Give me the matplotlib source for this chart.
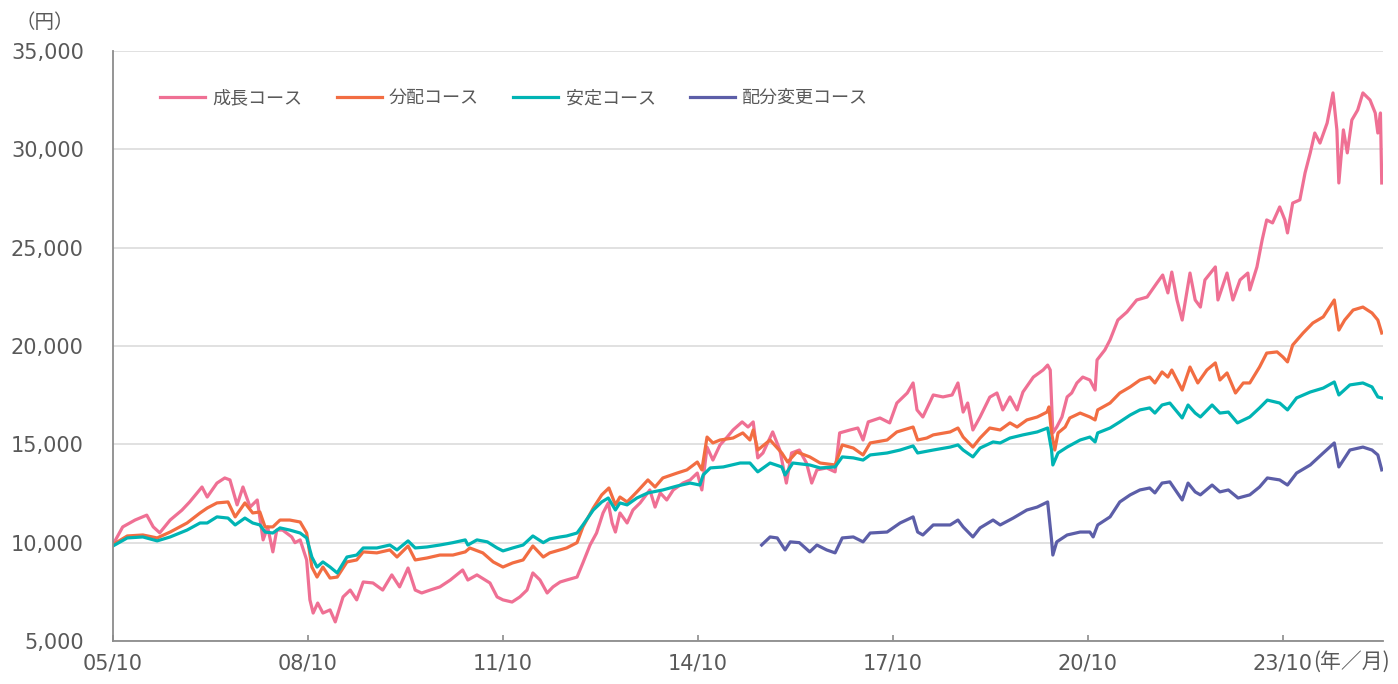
# -*- coding: utf-8 -*-
"""
基準価額の推移（成長・分配・安定・配分変更コース）
"""

import matplotlib
matplotlib.use('Agg')
import matplotlib.pyplot as plt
from matplotlib.ticker import StrMethodFormatter

plt.rcParams['font.family'] = ['DejaVu Sans', 'Noto Sans CJK JP']

# データ（年は小数で表記：2005.75 = 2005年10月）
growth_t = [2005.75, 2005.90, 2006.09, 2006.27, 2006.37, 2006.47, 2006.63, 2006.81, 2006.93,
            2007.12, 2007.20, 2007.35, 2007.47, 2007.55, 2007.66, 2007.75, 2007.86, 2007.97,
            2008.06, 2008.13, 2008.21, 2008.27, 2008.36, 2008.50, 2008.55, 2008.63, 2008.73,
            2008.78, 2008.83, 2008.90, 2008.98, 2009.09, 2009.17, 2009.29, 2009.40, 2009.50,
            2009.60, 2009.75, 2009.90, 2010.04, 2010.16, 2010.29, 2010.40, 2010.50, 2010.63,
            2010.78, 2010.94, 2011.13, 2011.21, 2011.35, 2011.55, 2011.66, 2011.75, 2011.89,
            2012.01, 2012.12, 2012.21, 2012.32, 2012.43, 2012.52, 2012.63, 2012.73, 2012.89,
            2012.98, 2013.09, 2013.19, 2013.29, 2013.37, 2013.43, 2013.48, 2013.55, 2013.66,
            2013.75, 2013.86, 2014.01, 2014.09, 2014.17, 2014.27, 2014.37, 2014.52, 2014.63,
            2014.74, 2014.81, 2014.89, 2014.98, 2015.09, 2015.20, 2015.29, 2015.43, 2015.52,
            2015.60, 2015.67, 2015.75, 2015.90, 2016.01, 2016.11, 2016.19, 2016.31, 2016.42,
            2016.50, 2016.58, 2016.73, 2016.86, 2016.93, 2017.09, 2017.21, 2017.29, 2017.37,
            2017.55, 2017.70, 2017.81, 2017.97, 2018.06, 2018.12, 2018.21, 2018.37, 2018.52,
            2018.66, 2018.75, 2018.83, 2018.90, 2018.98, 2019.09, 2019.24, 2019.35, 2019.44,
            2019.55, 2019.66, 2019.75, 2019.91, 2020.06, 2020.13, 2020.17, 2020.21, 2020.27,
            2020.35, 2020.43, 2020.50, 2020.58, 2020.67, 2020.78, 2020.86, 2020.89, 2021.01,
            2021.09, 2021.21, 2021.35, 2021.50, 2021.66, 2021.81, 2021.90, 2021.98, 2022.04,
            2022.12, 2022.20, 2022.32, 2022.40, 2022.48, 2022.55, 2022.71, 2022.75, 2022.89,
            2022.98, 2023.09, 2023.21, 2023.24, 2023.35, 2023.43, 2023.50, 2023.59, 2023.70,
            2023.78, 2023.82, 2023.90, 2024.01, 2024.09, 2024.17, 2024.24, 2024.32, 2024.43,
            2024.52, 2024.58, 2024.61, 2024.68, 2024.74, 2024.81, 2024.90, 2024.98, 2025.09,
            2025.17, 2025.21, 2025.25, 2025.27]
growth_v = [9900, 10800, 11150, 11400, 10800, 10500, 11150, 11650, 12070,
            12830, 12320, 13030, 13290, 13190, 11920, 12830, 11810, 12170,
            10140, 10800, 9530, 10640, 10640, 10290, 10000, 10140, 9120,
            7090, 6420, 6930, 6420, 6580, 5970, 7240, 7590, 7090,
            8000, 7950, 7590, 8360, 7750, 8710, 7590, 7440, 7590,
            7750, 8100, 8610, 8100, 8360, 7950, 7240, 7090, 6980,
            7240, 7590, 8460, 8100, 7440, 7750, 8000, 8100, 8250,
            8970, 9880, 10490, 11510, 12020, 11000, 10540, 11510, 11000,
            11660, 12020, 12680, 11810, 12530, 12170, 12680, 13030, 13190,
            13540, 12680, 14860, 14200, 14970, 15370, 15730, 16140, 15880,
            16140, 14310, 14560, 15630, 14710, 13030, 14560, 14710, 14050,
            13030, 13700, 13800, 13600, 15580, 15730, 15830, 15220, 16140,
            16340, 16090, 17100, 17610, 18120, 16750, 16390, 17510, 17410,
            17510, 18120, 16640, 17100, 15730, 16390, 17400, 17610, 16750,
            17410, 16750, 17660, 18420, 18780, 19030, 18780, 15580, 15880,
            16390, 17410, 17610, 18120, 18420, 18270, 17760, 19290, 19800,
            20310, 21320, 21730, 22340, 22490, 23200, 23610, 22700, 23760,
            22340, 21320, 23710, 22340, 21980, 23360, 24020, 22340, 23710,
            22340, 23360, 23710, 22850, 24020, 25390, 26410, 26260, 27070,
            26410, 25750, 27270, 27430, 28800, 29820, 30830, 30320, 31340,
            32870, 30990, 28290, 30990, 29820, 31490, 32000, 32870, 32510,
            31850, 30830, 31850, 28290]

dist_t = [2005.75, 2005.97, 2006.21, 2006.43, 2006.63, 2006.89, 2007.09, 2007.20, 2007.35,
          2007.52, 2007.63, 2007.78, 2007.90, 2008.01, 2008.09, 2008.21, 2008.32, 2008.47,
          2008.63, 2008.73, 2008.81, 2008.89, 2008.98, 2009.09, 2009.20, 2009.35, 2009.50,
          2009.60, 2009.81, 2010.01, 2010.12, 2010.29, 2010.40, 2010.58, 2010.78, 2010.98,
          2011.17, 2011.24, 2011.44, 2011.60, 2011.75, 2011.90, 2012.06, 2012.21, 2012.37,
          2012.47, 2012.73, 2012.89, 2012.98, 2013.14, 2013.27, 2013.38, 2013.48, 2013.55,
          2013.66, 2013.81, 2013.98, 2014.09, 2014.21, 2014.43, 2014.58, 2014.74, 2014.81,
          2014.89, 2014.98, 2015.09, 2015.29, 2015.44, 2015.55, 2015.60, 2015.67, 2015.86,
          2016.04, 2016.13, 2016.27, 2016.47, 2016.63, 2016.86, 2016.97, 2017.14, 2017.29,
          2017.40, 2017.66, 2017.81, 2018.06, 2018.13, 2018.27, 2018.37, 2018.63, 2018.75,
          2018.83, 2018.98, 2019.09, 2019.24, 2019.40, 2019.55, 2019.66, 2019.81, 2019.97,
          2020.12, 2020.15, 2020.19, 2020.24, 2020.29, 2020.40, 2020.47, 2020.63, 2020.78,
          2020.86, 2020.90, 2021.09, 2021.24, 2021.40, 2021.55, 2021.70, 2021.78, 2021.89,
          2021.98, 2022.04, 2022.20, 2022.32, 2022.44, 2022.58, 2022.71, 2022.78, 2022.89,
          2023.02, 2023.14, 2023.24, 2023.39, 2023.50, 2023.66, 2023.75, 2023.82, 2023.90,
          2024.06, 2024.21, 2024.37, 2024.54, 2024.61, 2024.70, 2024.83, 2024.98, 2025.12,
          2025.21, 2025.27]
dist_v = [9900, 10340, 10390, 10240, 10540, 11000, 11510, 11760, 12020,
          12070, 11310, 12020, 11510, 11560, 10800, 10800, 11150, 11150,
          11050, 10490, 8760, 8250, 8760, 8200, 8250, 9020, 9120,
          9530, 9480, 9630, 9270, 9830, 9120, 9220, 9370, 9370,
          9530, 9730, 9480, 9020, 8760, 8970, 9120, 9830, 9270,
          9480, 9730, 10000, 10800, 11760, 12430, 12780, 11920, 12320,
          12070, 12580, 13190, 12830, 13290, 13540, 13700, 14100, 13700,
          15370, 15070, 15220, 15320, 15580, 15220, 15730, 14710, 15220,
          14560, 14100, 14610, 14360, 14050, 13950, 14970, 14810, 14460,
          15070, 15220, 15630, 15880, 15220, 15320, 15480, 15630, 15830,
          15370, 14860, 15320, 15830, 15730, 16090, 15880, 16240, 16390,
          16640, 16900, 15580, 14710, 15580, 15880, 16340, 16590, 16390,
          16240, 16750, 17100, 17610, 17920, 18270, 18420, 18120, 18680,
          18420, 18780, 17760, 18930, 18120, 18780, 19140, 18270, 18630,
          17610, 18120, 18120, 18930, 19640, 19700, 19440, 19190, 20050,
          20660, 21170, 21480, 22340, 20810, 21320, 21830, 21980, 21680,
          21320, 20660]

stable_t = [2005.75, 2005.97, 2006.21, 2006.43, 2006.63, 2006.89, 2007.09, 2007.20, 2007.35,
            2007.52, 2007.63, 2007.78, 2007.90, 2008.01, 2008.09, 2008.21, 2008.32, 2008.47,
            2008.63, 2008.73, 2008.81, 2008.89, 2008.98, 2009.09, 2009.20, 2009.35, 2009.50,
            2009.60, 2009.81, 2010.01, 2010.12, 2010.29, 2010.40, 2010.58, 2010.78, 2010.98,
            2011.17, 2011.21, 2011.35, 2011.51, 2011.66, 2011.75, 2011.90, 2012.06, 2012.21,
            2012.37, 2012.47, 2012.63, 2012.73, 2012.89, 2012.98, 2013.14, 2013.27, 2013.37,
            2013.48, 2013.55, 2013.66, 2013.81, 2013.98, 2014.21, 2014.43, 2014.63, 2014.78,
            2014.83, 2014.94, 2015.14, 2015.40, 2015.55, 2015.67, 2015.86, 2016.04, 2016.09,
            2016.21, 2016.47, 2016.63, 2016.86, 2016.97, 2017.14, 2017.29, 2017.40, 2017.66,
            2017.86, 2018.06, 2018.13, 2018.37, 2018.63, 2018.75, 2018.83, 2018.98, 2019.09,
            2019.29, 2019.40, 2019.55, 2019.75, 2019.97, 2020.13, 2020.19, 2020.21, 2020.29,
            2020.43, 2020.63, 2020.78, 2020.86, 2020.90, 2021.09, 2021.24, 2021.40, 2021.55,
            2021.70, 2021.78, 2021.89, 2022.01, 2022.20, 2022.29, 2022.40, 2022.48, 2022.66,
            2022.78, 2022.91, 2023.05, 2023.24, 2023.39, 2023.51, 2023.70, 2023.82, 2023.96,
            2024.17, 2024.37, 2024.54, 2024.61, 2024.78, 2024.98, 2025.12, 2025.21, 2025.27]
stable_v = [9830, 10240, 10290, 10090, 10290, 10640, 11000, 11000, 11310,
            11250, 10900, 11250, 11000, 10900, 10540, 10490, 10750, 10640,
            10490, 10240, 9270, 8760, 9020, 8760, 8460, 9270, 9370,
            9730, 9730, 9880, 9630, 10090, 9730, 9780, 9880, 10000,
            10140, 9880, 10140, 10040, 9730, 9580, 9730, 9880, 10340,
            10000, 10190, 10290, 10340, 10490, 10900, 11660, 12070, 12270,
            11660, 12020, 11920, 12270, 12530, 12680, 12880, 13030, 12930,
            13440, 13800, 13850, 14050, 14050, 13600, 14050, 13850, 13440,
            14050, 13950, 13800, 13850, 14360, 14310, 14200, 14460, 14560,
            14710, 14920, 14560, 14710, 14860, 14970, 14710, 14360, 14810,
            15120, 15070, 15320, 15480, 15630, 15830, 14710, 13950, 14560,
            14860, 15220, 15370, 15120, 15580, 15830, 16140, 16490, 16750,
            16850, 16590, 17000, 17100, 16340, 17000, 16590, 16390, 17000,
            16590, 16640, 16090, 16390, 16850, 17250, 17100, 16750, 17360,
            17660, 17860, 18170, 17510, 18020, 18120, 17920, 17410, 17360]

realloc_t = [2015.73, 2015.86, 2015.97, 2016.09, 2016.17, 2016.31, 2016.47, 2016.58, 2016.73,
             2016.86, 2016.97, 2017.14, 2017.29, 2017.40, 2017.66, 2017.86, 2018.06, 2018.13,
             2018.21, 2018.37, 2018.63, 2018.75, 2018.83, 2018.98, 2019.09, 2019.29, 2019.40,
             2019.60, 2019.81, 2019.97, 2020.13, 2020.19, 2020.21, 2020.27, 2020.43, 2020.63,
             2020.78, 2020.83, 2020.90, 2021.09, 2021.24, 2021.40, 2021.55, 2021.70, 2021.78,
             2021.89, 2022.01, 2022.20, 2022.29, 2022.40, 2022.48, 2022.66, 2022.78, 2022.91,
             2023.06, 2023.24, 2023.39, 2023.51, 2023.70, 2023.82, 2023.96, 2024.17, 2024.37,
             2024.54, 2024.61, 2024.78, 2024.98, 2025.12, 2025.21, 2025.27]
realloc_v = [9880, 10290, 10240, 9630, 10040, 10000, 9530, 9880, 9630,
             9480, 10240, 10290, 10040, 10490, 10540, 11000, 11310, 10540,
             10390, 10900, 10900, 11150, 10800, 10290, 10750, 11150, 10900,
             11250, 11660, 11810, 12070, 10140, 9370, 10040, 10390, 10540,
             10540, 10290, 10900, 11310, 12070, 12430, 12680, 12780, 12530,
             13030, 13090, 12170, 13030, 12580, 12430, 12930, 12580, 12680,
             12270, 12430, 12830, 13290, 13190, 12930, 13540, 13950, 14560,
             15070, 13850, 14710, 14860, 14710, 14460, 13700]

labels = ['成長コース', '分配コース', '安定コース', '配分変更コース']
colors = ['#EF7094', '#F26D42', '#00B4B4', '#5C5EA8']

xtick_pos = [2005.75, 2008.75, 2011.75, 2014.75, 2017.75, 2020.75, 2023.75]
xtick_lab = ['05/10', '08/10', '11/10', '14/10', '17/10', '20/10', '23/10']
yticks = [5000, 10000, 15000, 20000, 25000, 30000, 35000]

text_col = '#595959'
cjk = ['Noto Sans CJK JP', 'DejaVu Sans']

fig, ax = plt.subplots(figsize=(13.98, 6.84), dpi=100)
fig.subplots_adjust(left=0.0808, right=0.9893, bottom=0.0629, top=0.9254)

series = [(growth_t, growth_v), (dist_t, dist_v), (stable_t, stable_v), (realloc_t, realloc_v)]
for (t, v), lab, c in zip(series, labels, colors):
    ax.plot(t, v, color=c, lw=2.3, label=lab, solid_joinstyle='round')

ax.set_xlim(2005.75, 2025.29)
ax.set_ylim(5000, 35000)
ax.set_yticks(yticks)
ax.yaxis.set_major_formatter(StrMethodFormatter('{x:,.0f}'))
ax.set_xticks(xtick_pos)
ax.set_xticklabels(xtick_lab)

ax.grid(axis='y', color='#D9D9D9', lw=1.1)
ax.set_axisbelow(True)
for s in ['top', 'right']:
    ax.spines[s].set_visible(False)
for s in ['left', 'bottom']:
    ax.spines[s].set_color('#8C8C8C')
    ax.spines[s].set_linewidth(1.3)

ax.tick_params(axis='y', length=0, pad=21, labelsize=15, labelcolor=text_col)
ax.tick_params(axis='x', direction='in', length=4, width=1.2, color='#8C8C8C',
               pad=9, labelsize=15, labelcolor=text_col)

# 単位
fig.text(45 / 1398, 1 - 22 / 684, '（円）', ha='center', va='center', fontsize=14,
         color=text_col, family=cjk)
ax.text(0.9448, -0.0356, '(年／月)', transform=ax.transAxes, ha='left', va='center',
        fontsize=15, color=text_col, family=cjk)

ax.legend(loc='center left', bbox_to_anchor=(0.037, 0.920), ncol=4, frameon=False,
          fontsize=13, handlelength=2.5, handletextpad=0.4, columnspacing=1.9,
          borderpad=0, borderaxespad=0, labelcolor=text_col)

fig.savefig('out.png', dpi=100)
